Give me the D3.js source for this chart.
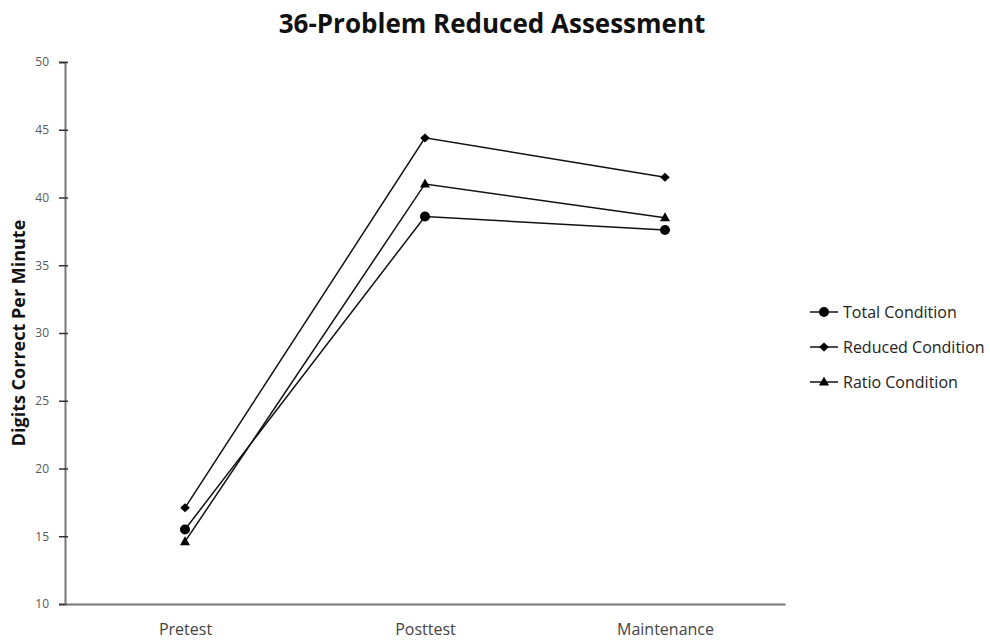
<!DOCTYPE html>
<html><head><meta charset="utf-8">
<script src="https://cdn.jsdelivr.net/npm/d3@7"></script>
<style>body{margin:0;background:#fff;}</style>
</head><body>
<svg id="chart" width="990" height="641"></svg>
<script>
const categories = ["Pretest", "Posttest", "Maintenance"];
const seriesNames = ["Total Condition", "Reduced Condition", "Ratio Condition"];
const totalValues = [15.5, 38.6, 37.6];
const reducedValues = [17.1, 44.4, 41.5];
const ratioValues = [14.6, 41.0, 38.5];
const yTicks = [10, 15, 20, 25, 30, 35, 40, 45, 50];
const markerTypes = ["circle", "diamond", "triangle"];

(function () {
const series = [
  {name: seriesNames[0], values: totalValues, marker: markerTypes[0]},
  {name: seriesNames[1], values: reducedValues, marker: markerTypes[1]},
  {name: seriesNames[2], values: ratioValues, marker: markerTypes[2]}
];

const svg = d3.select("#chart");
const font = "'Open Sans', Lato, sans-serif";
const mLeft = 65, mRight = 785, mTop = 62, mBottom = 604;

const x = d3.scalePoint().domain(categories).range([mLeft, mRight]).padding(0.5);
const y = d3.scaleLinear().domain([10, 50]).range([mBottom, mTop]);

// title
svg.append("text").attr("x", 492).attr("y", 33).attr("text-anchor", "middle")
  .attr("font-family", font).attr("font-weight", "bold").attr("font-size", 26)
  .attr("fill", "#111").text("36-Problem Reduced Assessment");

// y axis
const yAxis = svg.append("g").attr("transform", `translate(${mLeft},0)`)
  .call(d3.axisLeft(y).tickValues(yTicks).tickSize(6).tickPadding(10));
yAxis.select(".domain").attr("stroke", "#777").attr("stroke-width", 2);
yAxis.selectAll(".tick line").attr("stroke", "#333").attr("stroke-width", 1.5)
  .attr("x1", 3).attr("x2", -6);
yAxis.selectAll(".tick text").attr("font-family", font).attr("font-size", 12).attr("fill", "#595959");

// x axis
const xAxis = svg.append("g").attr("transform", `translate(0,${mBottom})`)
  .call(d3.axisBottom(x).tickSize(0).tickPadding(0));
xAxis.select(".domain").attr("stroke", "#777").attr("stroke-width", 2);
xAxis.selectAll(".tick text").attr("font-family", font).attr("font-size", 16)
  .attr("fill", "#444").attr("dy", null).attr("y", 31);

// y label
svg.append("text").attr("transform", `translate(25,${(mTop + mBottom) / 2}) rotate(-90)`)
  .attr("text-anchor", "middle").attr("font-family", font).attr("font-weight", "bold")
  .attr("font-size", 18).attr("fill", "#111").text("Digits Correct Per Minute");

function drawMarker(g, type, cx, cy) {
  if (type === "circle") {
    g.append("circle").attr("cx", cx).attr("cy", cy).attr("r", 5).attr("fill", "#000");
  } else if (type === "diamond") {
    g.append("path").attr("d", "M0,-4.5L4.8,0L0,4.5L-4.8,0Z")
      .attr("transform", `translate(${cx},${cy})`).attr("fill", "#000");
  } else {
    g.append("path").attr("d", "M0,-5.5L5,3.5L-5,3.5Z")
      .attr("transform", `translate(${cx},${cy})`).attr("fill", "#000");
  }
}

const line = d3.line().x((d, i) => x(categories[i])).y(d => y(d));
series.forEach(s => {
  svg.append("path").attr("d", line(s.values)).attr("fill", "none")
    .attr("stroke", "#111").attr("stroke-width", 1.5);
  const g = svg.append("g");
  s.values.forEach((v, i) => drawMarker(g, s.marker, x(categories[i]), y(v)));
});

// legend
const legY = [312, 347, 382];
series.forEach((s, i) => {
  const g = svg.append("g");
  g.append("line").attr("x1", 810).attr("x2", 838).attr("y1", legY[i]).attr("y2", legY[i])
    .attr("stroke", "#111").attr("stroke-width", 1.5);
  drawMarker(g, s.marker, 824, legY[i]);
  g.append("text").attr("x", 843).attr("y", legY[i]).attr("dy", "0.35em")
    .attr("font-family", font).attr("font-size", 16).attr("fill", "#222").text(s.name);
});
})();
</script>
</body></html>
